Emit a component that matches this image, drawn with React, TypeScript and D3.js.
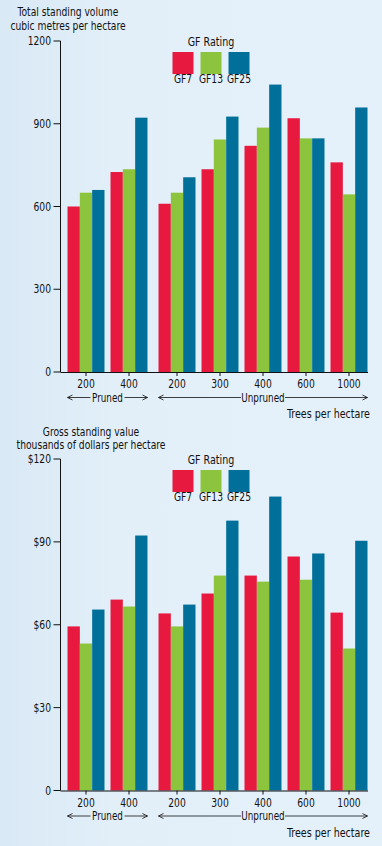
import React from "react";
import * as d3 from "d3";

const categories = ["200", "400", "200", "300", "400", "600", "1000"];
const pruning = ["Pruned", "Pruned", "Unpruned", "Unpruned", "Unpruned", "Unpruned", "Unpruned"];
const series = ["GF7", "GF13", "GF25"];
const seriesColors = ["#e8193f", "#8cc43e", "#00709a"];

const volumeGF7 = [600, 725, 610, 735, 820, 920, 760];
const volumeGF13 = [650, 735, 650, 843, 886, 847, 644];
const volumeGF25 = [660, 922, 706, 926, 1042, 847, 959];
const volumeTicks = [0, 300, 600, 900, 1200];

const valueGF7 = [59.4, 69.1, 64.1, 71.3, 77.8, 84.7, 64.4];
const valueGF13 = [53.2, 66.6, 59.4, 77.8, 75.6, 76.3, 51.4];
const valueGF25 = [65.5, 92.3, 67.3, 97.7, 106.4, 85.8, 90.4];
const valueTicks = [0, 30, 60, 90, 120];

const W = 382;
const H = 846;
const FONT = "'DejaVu Sans Condensed', 'Liberation Sans Narrow', sans-serif";
const INK = "#111";
const SX = 0.85;

const GROUP_GAP = 5;

const x0 = d3
  .scaleBand<number>()
  .domain(categories.map((_, i) => i))
  .range([64.5, 365.5])
  .paddingInner(0.14)
  .paddingOuter(0.07);

const groupX = (i: number) => (x0(i) as number) + (pruning[i] === "Unpruned" ? GROUP_GAP : 0);

const x1 = d3.scaleBand<string>().domain(series).range([0, x0.bandwidth()]).padding(0);

function T({
  x,
  y,
  anchor = "middle",
  size = 12,
  children,
}: {
  x: number;
  y: number;
  anchor?: "start" | "middle" | "end";
  size?: number;
  children: React.ReactNode;
}) {
  return (
    <text
      transform={`translate(${x},${y}) scale(${SX},1)`}
      textAnchor={anchor}
      fontSize={size}
      fill={INK}
      stroke="none"
    >
      {children}
    </text>
  );
}

interface PanelProps {
  yTop: number;
  yZero: number;
  max: number;
  ticks: number[];
  fmt: (v: number) => string;
  titleLines: string[];
  titleX: number;
  titleY: number[];
  titleSize: number;
  data: number[][];
}

function Panel({ yTop, yZero, max, ticks, fmt, titleLines, titleX, titleY, titleSize, data }: PanelProps) {
  const y = d3.scaleLinear().domain([0, max]).range([yZero, yTop]);
  const axisX = 60.5;
  const xEnd = 368;
  const legendCx = 211;
  const sq = 21;
  const sqGap = 7;
  const legendStart = legendCx - (3 * sq + 2 * sqGap) / 2;

  const prunedIdx = categories.map((_, i) => i).filter((i) => pruning[i] === "Pruned");
  const unprunedIdx = categories.map((_, i) => i).filter((i) => pruning[i] === "Unpruned");
  const spans = [
    { label: "Pruned", idx: prunedIdx, half: 17 },
    { label: "Unpruned", idx: unprunedIdx, half: 22 },
  ].map((s) => {
    const a = groupX(s.idx[0]);
    const b = groupX(s.idx[s.idx.length - 1]) + x0.bandwidth();
    return { ...s, a, b, mid: (a + b) / 2 };
  });
  const arrowY = yZero + 25.5;

  return (
    <g>
      {titleLines.map((t, k) => (
        <T key={k} x={titleX} y={titleY[k]} size={titleSize}>
          {t}
        </T>
      ))}
      {/* legend */}
      <T x={legendCx} y={yTop + 5} size={12.5}>
        GF Rating
      </T>
      {series.map((s, k) => {
        const lx = legendStart + k * (sq + sqGap);
        return (
          <g key={s}>
            <rect x={lx} y={yTop + 11} width={sq} height={22} fill={seriesColors[k]} />
            <T x={lx + sq / 2} y={yTop + 42}>
              {s}
            </T>
          </g>
        );
      })}
      {/* bars */}
      {categories.map((c, i) => (
        <g key={i} transform={`translate(${groupX(i)},0)`}>
          {series.map((s, k) => (
            <rect
              key={s}
              x={x1(s)}
              y={y(data[k][i])}
              width={x1.bandwidth()}
              height={yZero - y(data[k][i])}
              fill={seriesColors[k]}
            />
          ))}
        </g>
      ))}
      {/* y axis */}
      <line x1={axisX} x2={axisX} y1={yTop} y2={yZero} stroke={INK} strokeWidth={1} />
      {ticks.map((t) => (
        <g key={t}>
          <line x1={53.5} x2={axisX} y1={y(t)} y2={y(t)} stroke={INK} strokeWidth={1} />
          <T x={51} y={y(t) + 4} anchor="end">
            {fmt(t)}
          </T>
        </g>
      ))}
      {/* x axis */}
      <line x1={axisX} x2={xEnd} y1={yZero + 0.5} y2={yZero + 0.5} stroke={INK} strokeWidth={1} />
      {categories.map((c, i) => {
        const cx = groupX(i) + x0.bandwidth() / 2;
        return (
          <g key={i}>
            <line x1={cx} x2={cx} y1={yZero} y2={yZero + 4} stroke={INK} strokeWidth={1} />
            <T x={cx} y={yZero + 16}>
              {c}
            </T>
          </g>
        );
      })}
      {spans.map((s) => (
        <g key={s.label} stroke={INK} strokeWidth={0.8} fill="none">
          <line x1={s.a} x2={s.mid - s.half} y1={arrowY} y2={arrowY} />
          <line x1={s.mid + s.half} x2={s.b} y1={arrowY} y2={arrowY} />
          <polyline points={`${s.a + 5},${arrowY - 2.5} ${s.a},${arrowY} ${s.a + 5},${arrowY + 2.5}`} />
          <polyline points={`${s.b - 5},${arrowY - 2.5} ${s.b},${arrowY} ${s.b - 5},${arrowY + 2.5}`} />
          <T x={s.mid} y={arrowY + 4} size={11.5}>
            {s.label}
          </T>
        </g>
      ))}
      <T x={370} y={yZero + 46} anchor="end" size={12.5}>
        Trees per hectare
      </T>
    </g>
  );
}

export default function App() {
  return (
    <svg
      width={W}
      height={H}
      viewBox={`0 0 ${W} ${H}`}
      style={{ position: "absolute", left: 0, top: 0, display: "block" }}
      fontFamily={FONT}
    >
      <defs>
        <linearGradient id="bg" x1="0" x2="1" y1="0" y2="0">
          <stop offset="0" stopColor="#d9e9f5" />
          <stop offset="0.3" stopColor="#e2eff9" />
          <stop offset="1" stopColor="#e5f1fa" />
        </linearGradient>
      </defs>
      <rect x={0} y={0} width={W} height={H} fill="url(#bg)" />
      <Panel
        yTop={41}
        yZero={372}
        max={1200}
        ticks={volumeTicks}
        fmt={(v) => String(v)}
        titleLines={["Total standing volume", "cubic metres per hectare"]}
        titleX={68}
        titleY={[16, 30]}
        titleSize={12}
        data={[volumeGF7, volumeGF13, volumeGF25]}
      />
      <Panel
        yTop={459}
        yZero={790.5}
        max={120}
        ticks={valueTicks}
        fmt={(v) => (v === 0 ? "0" : `$${v}`)}
        titleLines={["Gross standing value", "thousands of dollars per hectare"]}
        titleX={91}
        titleY={[435.5, 448.5]}
        titleSize={12}
        data={[valueGF7, valueGF13, valueGF25]}
      />
    </svg>
  );
}
